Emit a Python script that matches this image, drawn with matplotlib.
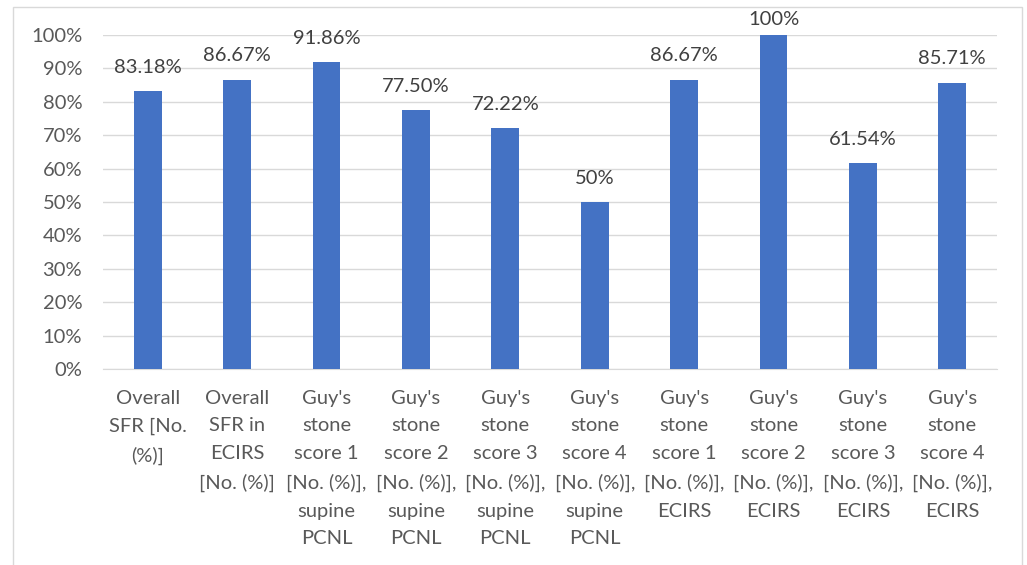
import matplotlib.pyplot as plt
from matplotlib.patches import Rectangle
import numpy as np

plt.rcParams['font.family'] = ['Lato', 'DejaVu Sans']

categories = [
    "Overall\nSFR [No.\n(%)]",
    "Overall\nSFR in\nECIRS\n[No. (%)]",
    "Guy's\nstone\nscore 1\n[No. (%)],\nsupine\nPCNL",
    "Guy's\nstone\nscore 2\n[No. (%)],\nsupine\nPCNL",
    "Guy's\nstone\nscore 3\n[No. (%)],\nsupine\nPCNL",
    "Guy's\nstone\nscore 4\n[No. (%)],\nsupine\nPCNL",
    "Guy's\nstone\nscore 1\n[No. (%)],\nECIRS",
    "Guy's\nstone\nscore 2\n[No. (%)],\nECIRS",
    "Guy's\nstone\nscore 3\n[No. (%)],\nECIRS",
    "Guy's\nstone\nscore 4\n[No. (%)],\nECIRS",
]
values = [83.18, 86.67, 91.86, 77.50, 72.22, 50, 86.67, 100, 61.54, 85.71]
labels = ["83.18%", "86.67%", "91.86%", "77.50%", "72.22%", "50%",
          "86.67%", "100%", "61.54%", "85.71%"]

W, H = 1027, 565
fig = plt.figure(figsize=(W / 100, H / 100), dpi=100)
ax = fig.add_axes([103 / W, 1 - 369 / H, 894 / W, 334 / H])

x = np.arange(len(values))
ax.bar(x, values, width=0.31, color='#4472C4', zorder=3)

for xi, v, lab in zip(x, values, labels):
    # labels at the top of the axis get squeezed down, as in the original
    off = 5 if v >= 100 else 11
    ax.annotate(lab, (xi, v), xytext=(0, off), textcoords='offset points',
                ha='center', va='bottom', fontsize=14.5, color='#404040',
                annotation_clip=False)

ax.set_xlim(-0.5, len(values) - 0.5)
ax.set_ylim(0, 100)
ax.set_yticks(np.arange(0, 101, 10))
ax.set_yticklabels([f"{t}%" for t in range(0, 101, 10)], fontsize=14.5, color='#595959')
ax.set_xticks(x)
ax.set_xticklabels(categories, fontsize=14.5, color='#595959', linespacing=1.76, va='top')
ax.tick_params(axis='both', length=0)
ax.tick_params(axis='x', pad=15)
ax.tick_params(axis='y', pad=15)
ax.grid(axis='y', color='#D9D9D9', linewidth=1, zorder=0)
for s in ['top', 'right', 'left']:
    ax.spines[s].set_visible(False)
ax.spines['bottom'].set_color('#D9D9D9')

fig.patches.append(Rectangle((13 / W, -0.1), (1022 - 13) / W, 1.1 - 7 / H,
                             transform=fig.transFigure, fill=False,
                             edgecolor='#D9D9D9', linewidth=1))

fig.savefig('out.png', dpi=100)
